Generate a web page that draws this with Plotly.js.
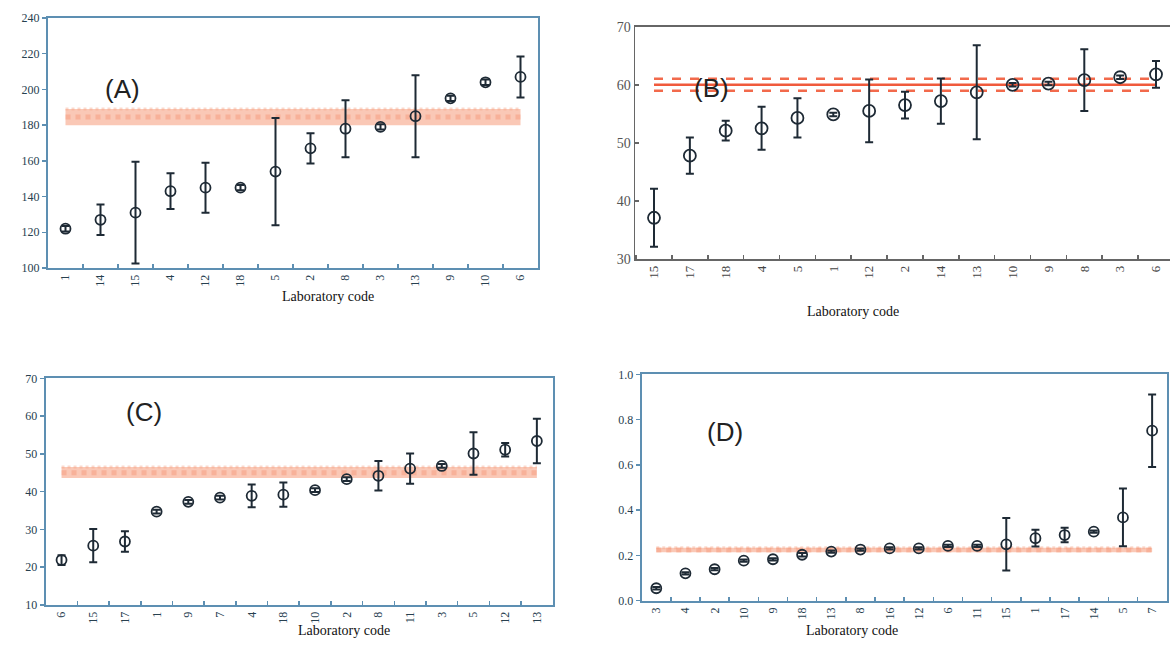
<!DOCTYPE html>
<html>
<head>
<meta charset="utf-8">
<script src="https://cdn.plot.ly/plotly-3.0.1.min.js"></script>
<style>
html,body{margin:0;padding:0;background:#fff;}
#chart{width:1170px;height:652px;}
</style>
</head>
<body>
<div id="chart"></div>
<script>
// ---- Panel A ----
const catsA = ['1','14','15','4','12','18','5','2','8','3','13','9','10','6'];
const valsA = [122, 127, 131, 143, 145, 145, 154, 167, 178, 179, 185, 195, 204, 207];
const errA  = [1.5, 8.5, 28.5, 10, 14, 1.5, 30, 8.5, 16, 1.5, 23, 1.5, 1.5, 11.5];
const refA  = [184.5, 180, 189];   // centre, lower, upper

// ---- Panel B ----
const catsB = ['15','17','18','4','5','1','12','2','14','13','10','9','8','3','6'];
const valsB = [37.1, 47.8, 52.1, 52.5, 54.3, 54.9, 55.5, 56.5, 57.2, 58.7, 60.0, 60.2, 60.8, 61.3, 61.8];
const errB  = [5, 3.1, 1.7, 3.7, 3.4, 0.3, 5.4, 2.3, 3.9, 8.1, 0.3, 0.3, 5.3, 0.3, 2.3];
const refB  = [60.0, 58.95, 61.05];

// ---- Panel C ----
const catsC = ['6','15','17','1','9','7','4','18','10','2','8','11','3','5','12','13'];
const valsC = [21.9, 25.7, 26.8, 34.7, 37.3, 38.4, 38.9, 39.2, 40.4, 43.3, 44.2, 46.1, 46.8, 50.1, 51.1, 53.4];
const errC  = [1.3, 4.4, 2.7, 0.5, 0.5, 0.5, 3, 3.2, 0.5, 0.5, 3.9, 4, 0.5, 5.6, 1.8, 5.9];
const refC  = [45, 43.6, 46.5];

// ---- Panel D ----
const catsD = ['3','4','2','10','9','18','13','8','16','12','6','11','15','1','17','14','5','7'];
const valsD = [0.055,0.121,0.139,0.177,0.183,0.203,0.217,0.226,0.231,0.231,0.242,0.242,0.249,0.276,0.290,0.305,0.368,0.751];
const errD  = [0.005,0.005,0.005,0.005,0.005,0.008,0.005,0.005,0.005,0.005,0.005,0.005,0.116,0.037,0.032,0.005,0.128,0.16];
const refD  = [0.224, 0.214, 0.234];

const panelLabels = ['(A)','(B)','(C)','(D)'];
const xTitle = 'Laboratory code';

const ink = '#1e2a35';
const band = 'rgba(246,145,110,0.5)';

function pts(cats, vals, errs, xa, ya, size) {
  return {
    type:'scatter', mode:'markers', x:cats, y:vals, xaxis:xa, yaxis:ya,
    marker:{symbol:'circle-open', size:size, color:ink, line:{width:1.8, color:ink}},
    error_y:{type:'data', array:errs, visible:true, color:ink, thickness:2, width:4},
    showlegend:false, hoverinfo:'x+y'
  };
}
function bandTraces(cats, ref, xa, ya) {
  const xs = [cats[0], cats[cats.length-1]];
  return [
    {type:'scatter', mode:'lines', x:xs, y:[ref[1],ref[1]], xaxis:xa, yaxis:ya,
     line:{width:0, color:band}, showlegend:false, hoverinfo:'skip'},
    {type:'scatter', mode:'lines', x:xs, y:[ref[2],ref[2]], xaxis:xa, yaxis:ya,
     line:{width:3, color:'rgba(246,160,130,0.4)', dash:'dot'}, fill:'tonexty', fillcolor:band,
     showlegend:false, hoverinfo:'skip'},
    {type:'scatter', mode:'lines', x:xs, y:[ref[0],ref[0]], xaxis:xa, yaxis:ya,
     line:{width:5, color:'rgba(244,135,100,0.35)', dash:'dot'}, showlegend:false, hoverinfo:'skip'}
  ];
}
function bandLinesB(cats, ref, xa, ya) {
  const xs = [cats[0], cats[cats.length-1]];
  return [
    {type:'scatter', mode:'lines', x:xs, y:[ref[0],ref[0]], xaxis:xa, yaxis:ya,
     line:{width:2.5, color:'#f05a3c'}, showlegend:false, hoverinfo:'skip'},
    {type:'scatter', mode:'lines', x:xs, y:[ref[1],ref[1]], xaxis:xa, yaxis:ya,
     line:{width:2.5, color:'#f26a4c', dash:'dash'}, showlegend:false, hoverinfo:'skip'},
    {type:'scatter', mode:'lines', x:xs, y:[ref[2],ref[2]], xaxis:xa, yaxis:ya,
     line:{width:2.5, color:'#f26a4c', dash:'dash'}, showlegend:false, hoverinfo:'skip'}
  ];
}

const data = [
  ...bandTraces(catsA, refA, 'x', 'y'),
  pts(catsA, valsA, errA, 'x', 'y', 10),
  ...bandLinesB(catsB, refB, 'x2', 'y2'),
  pts(catsB, valsB, errB, 'x2', 'y2', 12),
  ...bandTraces(catsC, refC, 'x3', 'y3'),
  pts(catsC, valsC, errC, 'x3', 'y3', 10),
  ...bandTraces(catsD, refD, 'x4', 'y4'),
  pts(catsD, valsD, errD, 'x4', 'y4', 10)
];

const W = 1170, H = 652;
const dx = (a,b) => [a/W, b/W];
const dy = (top,bot) => [1-bot/H, 1-top/H];

const blueLine = '#5d8fb2';
const blueText = '#27404f';
const serif = 'Liberation Serif, Times New Roman, serif';

function xax(cats, domain, range, lc, tc, lw, tsize) {
  return {domain:domain, type:'category', categoryorder:'array', categoryarray:cats, range:range,
    showline:true, mirror:true, linecolor:lc, linewidth:lw, ticks:'inside', tickson:'boundaries',
    ticklen:4, tickcolor:lc, tickwidth:1.5, tickangle:-90, showgrid:false, zeroline:false,
    tickfont:{family:serif, size:tsize, color:tc}};
}
function yax(domain, range, dtick, lc, tc, lw, tickdir, tsize) {
  return {domain:domain, range:range, dtick:dtick, showline:true, mirror:true, linecolor:lc, linewidth:lw,
    ticks:tickdir, ticklen:4, tickcolor:lc, tickwidth:1.5, showgrid:false, zeroline:false,
    tickfont:{family:serif, size:tsize, color:tc}};
}

const layout = {
  width:W, height:H, margin:{l:0,r:0,t:0,b:0},
  paper_bgcolor:'#ffffff', plot_bgcolor:'#ffffff', showlegend:false,
  xaxis:  Object.assign(xax(catsA, dx(48,538), [-0.5,13.5], blueLine, blueText, 2, 12), {anchor:'y'}),
  yaxis:  Object.assign(yax(dy(18,268), [100,240], 20, blueLine, blueText, 2, 'outside', 12), {anchor:'x', tickformat:'d'}),
  xaxis2: Object.assign(xax(catsB, dx(635,1170), [-0.53,14.39], '#666', '#444', 1.5, 13), {anchor:'y2'}),
  yaxis2: Object.assign(yax(dy(26.7,259), [30,70], 10, '#666', '#555', 1.5, 'inside', 14), {anchor:'x2'}),
  xaxis3: Object.assign(xax(catsC, dx(45.7,552.7), [-0.5,15.5], blueLine, blueText, 2, 12), {anchor:'y3'}),
  yaxis3: Object.assign(yax(dy(378.3,605), [10,70], 10, blueLine, blueText, 2, 'outside', 12), {anchor:'x3'}),
  xaxis4: Object.assign(xax(catsD, dx(641.7,1166.7), [-0.5,17.5], blueLine, blueText, 2, 12), {anchor:'y4'}),
  yaxis4: Object.assign(yax(dy(374.3,600.7), [0,1.0], 0.2, blueLine, blueText, 2, 'outside', 12), {anchor:'x4', tickformat:'.1f'}),
  annotations: [
    {text:panelLabels[0], x:103/W, y:1-72/H, xref:'paper', yref:'paper', showarrow:false, font:{family:'Liberation Sans, Arial, sans-serif', size:26, color:'#222'}},
    {text:panelLabels[1], x:712/W, y:1-71/H, xref:'paper', yref:'paper', showarrow:false, font:{family:'Liberation Sans, Arial, sans-serif', size:26, color:'#222'}},
    {text:panelLabels[2], x:124/W, y:1-412/H, xref:'paper', yref:'paper', showarrow:false, font:{family:'Liberation Sans, Arial, sans-serif', size:26, color:'#222'}},
    {text:panelLabels[3], x:725/W, y:1-432/H, xref:'paper', yref:'paper', showarrow:false, font:{family:'Liberation Sans, Arial, sans-serif', size:26, color:'#222'}},
    {text:xTitle, x:280/W, y:1-296/H, xref:'paper', yref:'paper', showarrow:false, font:{family:serif, size:14, color:'#111'}},
    {text:xTitle, x:901/W, y:1-311/H, xref:'paper', yref:'paper', showarrow:false, font:{family:serif, size:14, color:'#111'}},
    {text:xTitle, x:296/W, y:1-640/H, xref:'paper', yref:'paper', showarrow:false, font:{family:serif, size:14, color:'#111'}},
    {text:xTitle, x:900/W, y:1-640/H, xref:'paper', yref:'paper', showarrow:false, font:{family:serif, size:14, color:'#111'}}
  ]
};

Plotly.newPlot('chart', data, layout, {displayModeBar:false, staticPlot:true});
</script>
</body>
</html>
